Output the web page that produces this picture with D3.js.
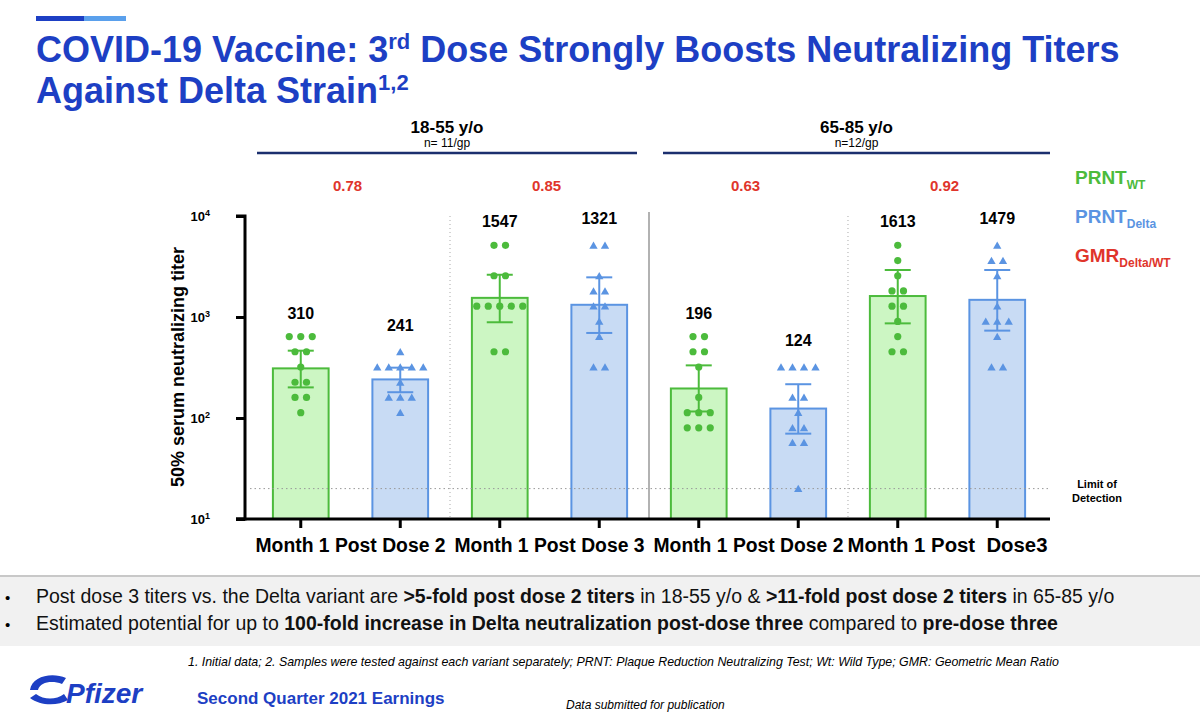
<!DOCTYPE html>
<html lang="en">
<head>
<meta charset="UTF-8">
<title>3rd Dose Delta Titers</title>
<style>
  body { margin: 0; background: #fff; font-family: "Liberation Sans", Arial, sans-serif; }
  svg text { font-family: "Liberation Sans", Arial, sans-serif; }
  svg text.narrow { font-family: "Liberation Sans Narrow", "Liberation Sans", Arial, sans-serif; }
</style>
</head>
<body>
<svg id="chart" width="1200" height="724"></svg>
<script src="https://d3js.org/d3.v7.min.js"></script>
<script>
// ---- data ----
var categories = ["Month 1 Post Dose 2", "Month 1 Post Dose 3", "Month 1 Post Dose 2", "Month 1 Post  Dose3"];
var groups = ["18-55 y/o", "65-85 y/o"];
var groupN = ["n= 11/gp", "n=12/gp"];
var gmrValues = ["0.78", "0.85", "0.63", "0.92"];
var barSeries = ["WT", "Delta", "WT", "Delta", "WT", "Delta", "WT", "Delta"];
var gmtValues = [310, 241, 1547, 1321, 196, 124, 1613, 1479];
var errLow = [201, 180, 887, 695, 116, 70, 865, 733];
var errHigh = [464, 315, 2620, 2470, 332, 216, 2920, 2920];
var pointValues = [
  [640, 640, 640, 453, 453, 320, 226, 226, 160, 160, 113],
  [453, 320, 320, 320, 320, 320, 226, 160, 160, 160, 113],
  [5120, 5120, 2560, 2560, 1280, 1280, 1280, 1280, 1280, 453, 453],
  [5120, 5120, 2560, 1810, 1810, 1280, 1280, 905, 640, 320, 320],
  [640, 640, 453, 453, 320, 160, 113, 113, 113, 80, 80, 80],
  [320, 320, 320, 320, 160, 160, 113, 80, 80, 57, 57, 20],
  [5120, 3620, 2560, 1810, 1810, 1280, 1280, 905, 640, 453, 453],
  [5120, 3620, 3620, 2560, 1280, 905, 905, 905, 640, 320, 320]
];
var limitOfDetection = 20;
var yTicks = [10, 100, 1000, 10000];

var col = {
  WT: { stroke: "#4cbb3c", fill: "#ccf6c3" },
  Delta: { stroke: "#5b94e2", fill: "#c8dbf4" }
};
var red = "#e0352b", navy = "#1b2f6e", titleBlue = "#1d3fc4";

var svg = d3.select("#chart");

// header decoration
svg.append("rect").attr("x", 36).attr("y", 16).attr("width", 48).attr("height", 5).attr("fill", "#1d3fc4");
svg.append("rect").attr("x", 84).attr("y", 16).attr("width", 42).attr("height", 5).attr("fill", "#5aa0ec");

var title = svg.append("text").attr("x", 36).attr("y", 62).attr("fill", titleBlue)
  .style("font-size", "36px").style("font-weight", "bold");
title.append("tspan").text("COVID-19 Vaccine: 3");
title.append("tspan").attr("dy", -13).style("font-size", "22px").text("rd");
title.append("tspan").attr("dy", 13).text(" Dose Strongly Boosts Neutralizing Titers");
var t2 = svg.append("text").attr("x", 36).attr("y", 103).attr("fill", titleBlue)
  .style("font-size", "36px").style("font-weight", "bold");
t2.append("tspan").text("Against Delta Strain");
t2.append("tspan").attr("dy", -13).style("font-size", "22px").text("1,2");

// scales
var y = d3.scaleLog().domain([10, 10000]).range([519, 216]);
var x = d3.scaleBand().domain(d3.range(8)).range([253, 1045]).paddingInner(0.44).paddingOuter(0.2);
var bw = x.bandwidth();
function cx(i) { return x(i) + bw / 2; }

// separators
var sep1 = (cx(1) + cx(2)) / 2, sep2 = (cx(3) + cx(4)) / 2, sep3 = (cx(5) + cx(6)) / 2;
[sep1, sep3].forEach(function(s) {
  svg.append("line").attr("x1", s).attr("x2", s).attr("y1", 216).attr("y2", 519)
    .attr("stroke", "#aaa").attr("stroke-dasharray", "1,3");
});
svg.append("line").attr("x1", sep2).attr("x2", sep2).attr("y1", 212).attr("y2", 519)
  .attr("stroke", "#999").attr("stroke-width", 1.5);

// bars
svg.selectAll("rect.bar").data(gmtValues).enter().append("rect")
  .attr("x", function(d, i) { return x(i); })
  .attr("y", function(d) { return y(d); })
  .attr("width", bw)
  .attr("height", function(d) { return 519 - y(d); })
  .attr("fill", function(d, i) { return col[barSeries[i]].fill; })
  .attr("stroke", function(d, i) { return col[barSeries[i]].stroke; })
  .attr("stroke-width", 2);

// limit of detection
svg.append("line").attr("x1", 250).attr("x2", 1048).attr("y1", y(limitOfDetection)).attr("y2", y(limitOfDetection))
  .attr("stroke", "#999").attr("stroke-dasharray", "1.5,3");
svg.append("text").attr("x", 1097).attr("y", y(limitOfDetection) - 1).attr("text-anchor", "middle")
  .style("font-size", "11px").style("font-weight", "bold").text("Limit of");
svg.append("text").attr("x", 1097).attr("y", y(limitOfDetection) + 13).attr("text-anchor", "middle")
  .style("font-size", "11px").style("font-weight", "bold").text("Detection");

// points and error bars
var tri = d3.symbol().type(d3.symbolTriangle).size(30);
pointValues.forEach(function(vals, i) {
  var counts = d3.rollup(vals, function(v) { return v.length; }, function(v) { return v; });
  var seen = {};
  var c = col[barSeries[i]].stroke;
  vals.forEach(function(v) {
    var n = counts.get(v);
    var k = seen[v] = (seen[v] || 0) + 1;
    var px = cx(i) + (k - 1 - (n - 1) / 2) * 11.5;
    if (barSeries[i] === "WT") {
      svg.append("circle").attr("cx", px).attr("cy", y(v)).attr("r", 3.6).attr("fill", c);
    } else {
      svg.append("path").attr("d", tri).attr("transform", "translate(" + px + "," + (y(v) + 1) + ")").attr("fill", c);
    }
  });
  var g = svg.append("g").attr("stroke", c).attr("stroke-width", 2);
  g.append("line").attr("x1", cx(i)).attr("x2", cx(i)).attr("y1", y(errLow[i])).attr("y2", y(errHigh[i]));
  g.append("line").attr("x1", cx(i) - 13).attr("x2", cx(i) + 13).attr("y1", y(errLow[i])).attr("y2", y(errLow[i]));
  g.append("line").attr("x1", cx(i) - 13).attr("x2", cx(i) + 13).attr("y1", y(errHigh[i])).attr("y2", y(errHigh[i]));
});

// GMT labels
svg.selectAll("text.gmt").data(gmtValues).enter().append("text")
  .attr("class", "narrow")
  .attr("x", function(d, i) { return cx(i); })
  .attr("y", function(d, i) {
    return Math.min(y(d3.max(pointValues[i])), y(errHigh[i])) - 18 - (i % 2 === 1 ? 3 : 0);
  })
  .attr("text-anchor", "middle").style("font-size", "16px").style("font-weight", "bold")
  .text(function(d) { return d; });

// axes
var yAxis = d3.axisLeft(y).tickValues(yTicks).tickSize(9).tickFormat("");
var ya = svg.append("g").attr("transform", "translate(245,0)").call(yAxis);
ya.select(".domain").attr("stroke-width", 3).attr("d", "M-9,216H0V519H-9");
ya.selectAll(".tick line").attr("stroke-width", 3);
yTicks.forEach(function(t) {
  var lbl = svg.append("text").attr("x", 210).attr("y", y(t) + 5).attr("text-anchor", "end")
    .style("font-size", "13px").style("font-weight", "bold");
  lbl.append("tspan").text("10");
  lbl.append("tspan").attr("dy", -5).style("font-size", "9px").text(Math.round(Math.log10(t)));
});
svg.append("text").attr("transform", "translate(184,367) rotate(-90)").attr("text-anchor", "middle")
  .style("font-size", "18px").style("font-weight", "bold").text("50% serum neutralizing titer");

var xAxis = svg.append("g").attr("transform", "translate(0,519)")
  .call(d3.axisBottom(x).tickSize(9).tickFormat(""));
xAxis.select(".domain").attr("stroke-width", 3).attr("d", "M236,0H1050");
xAxis.selectAll(".tick line").attr("stroke-width", 3);

categories.forEach(function(c, j) {
  svg.append("text").attr("class", "narrow").attr("x", (cx(2 * j) + cx(2 * j + 1)) / 2).attr("y", 552).attr("text-anchor", "middle")
    .style("font-size", "20px").style("font-weight", "bold").style("white-space", "pre")
    .attr("textLength", j === 3 ? 200 : 190).attr("lengthAdjust", "spacingAndGlyphs")
    .text(c);
});

// group headers and GMRs
groups.forEach(function(gname, j) {
  var x0 = j === 0 ? 257 : 663, x1 = j === 0 ? 637 : 1050;
  var mid = (x0 + x1) / 2;
  svg.append("text").attr("x", mid).attr("y", 133).attr("text-anchor", "middle")
    .style("font-size", "17px").style("font-weight", "bold").text(gname);
  svg.append("text").attr("x", mid).attr("y", 147).attr("text-anchor", "middle")
    .style("font-size", "12px").text(groupN[j]);
  svg.append("line").attr("x1", x0).attr("x2", x1).attr("y1", 153).attr("y2", 153)
    .attr("stroke", navy).attr("stroke-width", 2.5);
});
gmrValues.forEach(function(v, j) {
  svg.append("text").attr("class", "narrow").attr("x", (cx(2 * j) + cx(2 * j + 1)) / 2 - 3).attr("y", 191).attr("text-anchor", "middle")
    .attr("fill", red).style("font-size", "15px").style("font-weight", "bold").text(v);
});

// legend
var legend = [["PRNT", "WT", col.WT.stroke], ["PRNT", "Delta", col.Delta.stroke], ["GMR", "Delta/WT", red]];
legend.forEach(function(l, k) {
  var t = svg.append("text").attr("x", 1075).attr("y", 184 + k * 39).attr("fill", l[2])
    .style("font-size", "19px").style("font-weight", "bold");
  t.append("tspan").text(l[0]);
  t.append("tspan").attr("dy", 5).style("font-size", "12px").text(l[1]);
});

// bullets band
svg.append("rect").attr("x", 0).attr("y", 576).attr("width", 1200).attr("height", 70).attr("fill", "#f1f1f1");
svg.append("line").attr("x1", 0).attr("x2", 1200).attr("y1", 576).attr("y2", 576).attr("stroke", "#c8c8c8").attr("stroke-width", 2);
var bullets = [
  [["Post dose 3 titers vs. the Delta variant are ", false], [">5-fold post dose 2 titers", true], [" in 18-55 y/o &  ", false], [">11-fold post dose 2 titers", true], [" in 65-85 y/o", false]],
  [["Estimated potential for up to ", false], ["100-fold increase in Delta neutralization post-dose three", true], [" compared to ", false], ["pre-dose three", true]]
];
bullets.forEach(function(b, k) {
  var yy = 603 + k * 27;
  svg.append("text").attr("x", 5).attr("y", yy).style("font-size", "15px").text("•");
  var t = svg.append("text").attr("x", 36).attr("y", yy).style("font-size", "19.5px").attr("fill", "#111");
  b.forEach(function(p) { t.append("tspan").style("font-weight", p[1] ? "bold" : "normal").text(p[0]); });
});

// footer
svg.append("text").attr("x", 188).attr("y", 666).style("font-size", "12.4px").style("font-style", "italic")
  .text("1. Initial data; 2. Samples were tested against each variant separately; PRNT: Plaque Reduction Neutralizing Test; Wt: Wild Type; GMR: Geometric Mean Ratio");
svg.append("text").attr("x", 197).attr("y", 704).attr("fill", titleBlue).style("font-size", "17px").style("font-weight", "bold")
  .text("Second Quarter 2021 Earnings");
svg.append("text").attr("x", 566).attr("y", 709).style("font-size", "12px").style("font-style", "italic")
  .text("Data submitted for publication");
// logo stand-in
svg.append("path").attr("d", "M30,690 C32,676 52,672 66,678 L62,684 C52,680 40,682 38,690 Z M30,698 C40,706 58,706 68,700 L64,694 C56,700 44,700 36,694 Z")
  .attr("fill", "#1d3fc4");
svg.append("text").attr("x", 66).attr("y", 703).attr("fill", titleBlue).style("font-size", "28px")
  .style("font-weight", "bold").style("font-style", "italic").text("Pfizer");
</script>
</body>
</html>
